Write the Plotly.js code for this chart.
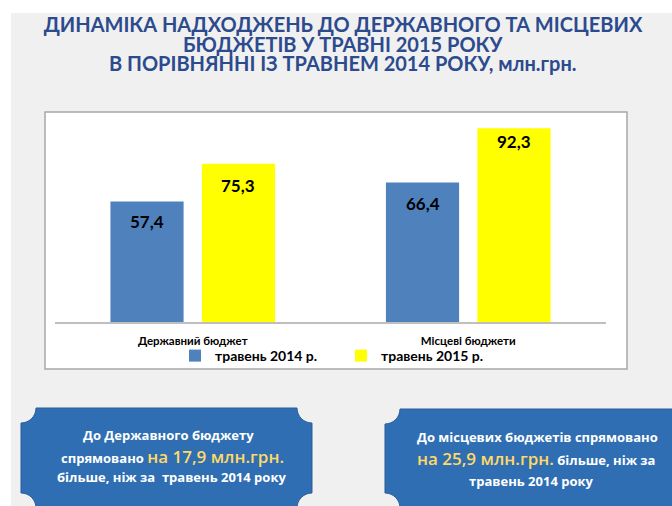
<!DOCTYPE html>
<html><head><meta charset="utf-8">
<script src="https://cdn.plot.ly/plotly-3.0.1.min.js"></script>
<style>html,body{margin:0;padding:0;background:#fff;}#chart{width:672px;height:506px;}</style>
</head><body><div id="chart"></div>
<script>
// ---- data ----
const categories = ['Державний бюджет', 'Місцеві бюджети'];
const seriesNames = ['травень 2014 р.', 'травень 2015 р.'];
const values2014 = [57.4, 66.4];
const values2015 = [75.3, 92.3];
const titleLines = [
  'ДИНАМІКА НАДХОДЖЕНЬ ДО ДЕРЖАВНОГО ТА МІСЦЕВИХ',
  'БЮДЖЕТІВ У ТРАВНІ 2015 РОКУ',
  'В ПОРІВНЯННІ ІЗ ТРАВНЕМ 2014 РОКУ, млн.грн.'
];
const note1 = ['До Державного бюджету', 'спрямовано ', 'на 17,9 млн.грн.', 'більше, ніж за&nbsp; травень 2014 року'];
const note2 = ['До місцевих бюджетів спрямовано', 'на 25,9 млн.грн.', ' більше, ніж за', 'травень 2014 року'];

// ---- layout geometry ----
const W = 672, H = 506;
const M = {l: 55, r: 66, t: 112, b: 184};
const PW = W - M.l - M.r, PH = H - M.t - M.b;
const BARGAP = 0.336, BARGROUPGAP = 0.2;
const px = x => (x - M.l) / PW;
const py = y => (H - M.b - y) / PH;
const fmt = v => v.toFixed(1).replace('.', ',');

const FONT = 'Lato, "Open Sans", sans-serif';
const NOTE_FONT = '"Open Sans", "Noto Sans", sans-serif';
const BLUE = '#4f81bd', YELLOW = '#ffff00';
const TITLE_COLOR = '#2c4a8e';
const BOX_BLUE = '#2f6eb3', NOTE_YELLOW = '#ffd966';

function plaque(x0, y0, x1, y1, r) {
  const k = 0.552 * r;
  const P = (x, y) => px(x).toFixed(5) + ',' + py(y).toFixed(5);
  return 'M' + P(x0 + r, y0) +
    ' L' + P(x1 - r, y0) +
    ' C' + P(x1 - r, y0 + k) + ' ' + P(x1 - k, y0 + r) + ' ' + P(x1, y0 + r) +
    ' L' + P(x1, y1 - r) +
    ' C' + P(x1 - k, y1 - r) + ' ' + P(x1 - r, y1 - k) + ' ' + P(x1 - r, y1) +
    ' L' + P(x0 + r, y1) +
    ' C' + P(x0 + r, y1 - k) + ' ' + P(x0 + k, y1 - r) + ' ' + P(x0, y1 - r) +
    ' L' + P(x0, y0 + r) +
    ' C' + P(x0 + k, y0 + r) + ' ' + P(x0 + r, y0 + k) + ' ' + P(x0 + r, y0) + ' Z';
}

const traces = [
  {type: 'bar', name: seriesNames[0], x: categories, y: values2014,
   marker: {color: BLUE}, hoverinfo: 'x+y'},
  {type: 'bar', name: seriesNames[1], x: categories, y: values2015,
   marker: {color: YELLOW}, hoverinfo: 'x+y'}
];

// data labels (inside end of each bar)
const slotPx = (PW / categories.length) * (1 - BARGAP) / 2;
const labelShift = [[-20, -21], [-22, -13]];
const annotations = [];
[values2014, values2015].forEach((vals, s) => {
  vals.forEach((v, i) => {
    annotations.push({
      xref: 'x', yref: 'y', x: categories[i], y: v,
      xshift: (s === 0 ? -1 : 1) * slotPx / 2, yshift: labelShift[s][i],
      text: '<b>' + fmt(v) + '</b>', showarrow: false,
      font: {family: FONT, size: 17, color: '#000'}, xanchor: 'center', yanchor: 'middle'
    });
  });
});

// title lines 2-3
[[titleLines[1], 44], [titleLines[2], 63]].forEach(([t, y]) => {
  annotations.push({xref: 'paper', yref: 'paper', x: px(343), y: py(y), text: '<b>' + t + '</b>',
    showarrow: false, xanchor: 'center', yanchor: 'middle',
    font: {family: FONT, size: 20, color: TITLE_COLOR}});
});

// notes
function note(x, y, html) {
  annotations.push({xref: 'paper', yref: 'paper', x: px(x), y: py(y), text: html,
    showarrow: false, xanchor: 'center', yanchor: 'middle',
    font: {family: NOTE_FONT, size: 13, color: '#ffffff'}});
}
const Yl = t => '<span style="color:' + NOTE_YELLOW + ';font-size:17px;font-weight:600">' + t + '</span>';
note(168, 435, '<b>' + note1[0] + '</b>');
note(172, 456, '<b>' + note1[1] + '</b>' + Yl(note1[2]));
note(171, 477, '<b>' + note1[3] + '</b>');
note(537, 437, '<b>' + note2[0] + '</b>');
note(536, 458, Yl(note2[1]) + '<b>' + note2[2] + '</b>');
note(531, 481, '<b>' + note2[3] + '</b>');

const shapes = [
  {type: 'rect', xref: 'paper', yref: 'paper', x0: px(11), x1: px(W + 2), y0: py(13), y1: py(H + 2),
   fillcolor: '#f0f0f0', line: {width: 0}, layer: 'below'},
  {type: 'rect', xref: 'paper', yref: 'paper', x0: px(45), x1: px(627), y0: py(112), y1: py(369),
   fillcolor: '#ffffff', line: {color: '#a6a6a6', width: 1.5}, layer: 'below'},
  {type: 'path', xref: 'paper', yref: 'paper', path: plaque(21, 408, 312, 508, 15),
   fillcolor: BOX_BLUE, line: {color: '#2a5f9c', width: 1}, layer: 'below'},
  {type: 'path', xref: 'paper', yref: 'paper', path: plaque(385, 409, 690, 508, 15),
   fillcolor: BOX_BLUE, line: {color: '#2a5f9c', width: 1}, layer: 'below'}
];

const layout = {
  width: W, height: H, margin: M,
  paper_bgcolor: '#ffffff', plot_bgcolor: 'rgba(0,0,0,0)',
  title: {text: '<b>' + titleLines[0] + '</b>', x: 343 / W, xanchor: 'center',
          y: 1 - 25 / H, yanchor: 'middle', xref: 'container', yref: 'container',
          font: {family: FONT, size: 20, color: TITLE_COLOR}},
  barmode: 'group', bargap: BARGAP, bargroupgap: BARGROUPGAP,
  xaxis: {type: 'category', showline: true, linecolor: '#bfbfbf', linewidth: 1.5,
          ticks: '', showgrid: false, zeroline: false, ticklabelstandoff: 8,
          tickfont: {family: FONT, size: 11.5, color: '#000', weight: 'bold'}},
  yaxis: {range: [0, 100], visible: false, showgrid: false, zeroline: false, fixedrange: true},
  showlegend: true,
  legend: {orientation: 'h', x: px(175), xanchor: 'left', y: py(356), yanchor: 'middle',
           bgcolor: 'rgba(0,0,0,0)', entrywidth: 121, entrywidthmode: 'pixels',
           font: {family: FONT, size: 14, color: '#000', weight: 'bold'}},
  annotations: annotations, shapes: shapes
};

Plotly.newPlot('chart', traces, layout, {displayModeBar: false, staticPlot: true});
</script></body></html>
